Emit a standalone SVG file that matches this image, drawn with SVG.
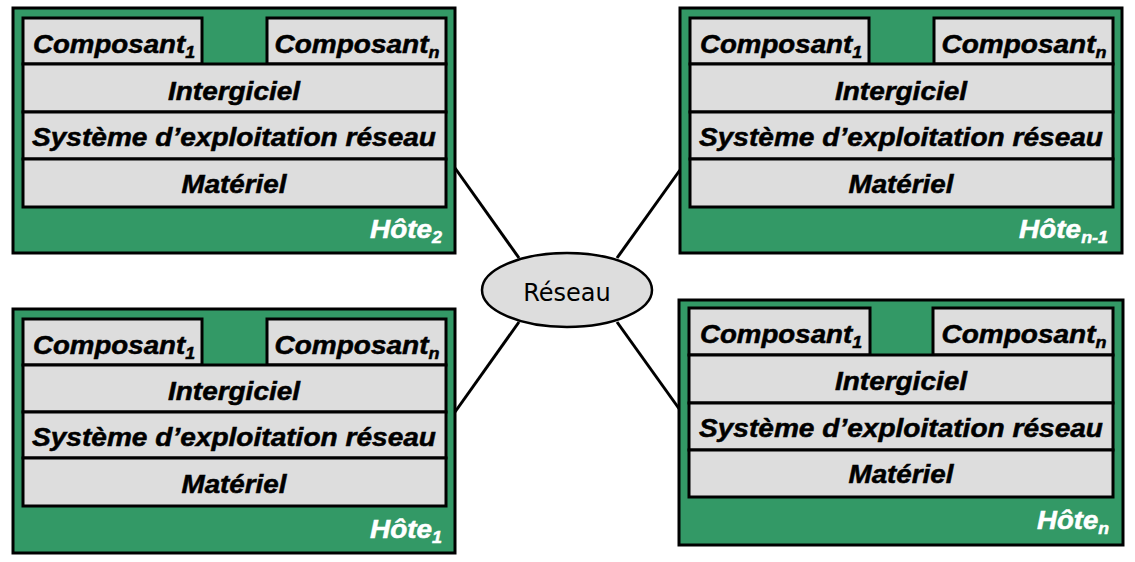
<svg xmlns="http://www.w3.org/2000/svg" width="1135" height="562" viewBox="0 0 1135 562">
<style>
.host{fill:#339966;stroke:#000;stroke-width:3}
.layer{fill:#dddddd;stroke:#000;stroke-width:3}
.lbl{font-family:Arial,"Liberation Sans",sans-serif;font-weight:bold;font-style:italic;font-size:25px;fill:#000;stroke:#000;stroke-width:0.5;text-anchor:middle}
.hl{font-family:Arial,"Liberation Sans",sans-serif;font-weight:bold;font-style:italic;font-size:25px;fill:#fff;stroke:#fff;stroke-width:0.5;text-anchor:end}
.sub{font-size:16px}
.conn{stroke:#000;stroke-width:3;fill:none}
.net{fill:#dddddd;stroke:#000;stroke-width:2.5}
.netl{font-family:"DejaVu Sans",Verdana,sans-serif;font-size:24px;fill:#000;text-anchor:middle}
</style>
<rect width="1135" height="562" fill="#fff"/>
<g id="connectors">
<line class="conn" x1="455" y1="168" x2="519" y2="258"/>
<line class="conn" x1="680" y1="170" x2="617" y2="258"/>
<line class="conn" x1="519" y1="322" x2="455" y2="412"/>
<line class="conn" x1="617" y1="322" x2="680" y2="410"/>
</g>
<g id="reseau">
<ellipse class="net" cx="567" cy="290" rx="85" ry="37"/>
<text class="netl" x="567" y="301">Réseau</text>
</g>
<g id="hote2" transform="translate(13,8)">
<rect class="host" x="0" y="0" width="442" height="245"/>
<rect class="layer" x="10" y="10" width="179" height="46"/>
<rect class="layer" x="254" y="10" width="179" height="46"/>
<rect class="layer" x="10" y="56" width="423" height="48"/>
<rect class="layer" x="10" y="104" width="423" height="47"/>
<rect class="layer" x="10" y="151" width="423" height="48"/>
<text class="lbl" x="101" y="45" textLength="162" lengthAdjust="spacingAndGlyphs">Composant<tspan class="sub" dy="5">1</tspan></text>
<text class="lbl" x="344" y="45" textLength="165" lengthAdjust="spacingAndGlyphs">Composant<tspan class="sub" dy="5">n</tspan></text>
<text class="lbl" x="221" y="92" textLength="132" lengthAdjust="spacingAndGlyphs">Intergiciel</text>
<text class="lbl" x="221" y="138" textLength="404" lengthAdjust="spacingAndGlyphs">Système d’exploitation réseau</text>
<text class="lbl" x="221" y="185" textLength="105" lengthAdjust="spacingAndGlyphs">Matériel</text>
<text class="hl" x="429" y="230" textLength="72" lengthAdjust="spacingAndGlyphs">Hôte<tspan class="sub" dy="5">2</tspan></text>
</g>
<g id="hoten-1" transform="translate(680,8)">
<rect class="host" x="0" y="0" width="442" height="245"/>
<rect class="layer" x="10" y="10" width="179" height="46"/>
<rect class="layer" x="254" y="10" width="179" height="46"/>
<rect class="layer" x="10" y="56" width="423" height="48"/>
<rect class="layer" x="10" y="104" width="423" height="47"/>
<rect class="layer" x="10" y="151" width="423" height="48"/>
<text class="lbl" x="101" y="45" textLength="162" lengthAdjust="spacingAndGlyphs">Composant<tspan class="sub" dy="5">1</tspan></text>
<text class="lbl" x="344" y="45" textLength="165" lengthAdjust="spacingAndGlyphs">Composant<tspan class="sub" dy="5">n</tspan></text>
<text class="lbl" x="221" y="92" textLength="132" lengthAdjust="spacingAndGlyphs">Intergiciel</text>
<text class="lbl" x="221" y="138" textLength="404" lengthAdjust="spacingAndGlyphs">Système d’exploitation réseau</text>
<text class="lbl" x="221" y="185" textLength="105" lengthAdjust="spacingAndGlyphs">Matériel</text>
<text class="hl" x="428" y="230" textLength="89" lengthAdjust="spacingAndGlyphs">Hôte<tspan class="sub" dy="5">n-1</tspan></text>
</g>
<g id="hote1" transform="translate(13,309)">
<rect class="host" x="0" y="0" width="442" height="244"/>
<rect class="layer" x="10" y="10" width="179" height="46"/>
<rect class="layer" x="254" y="10" width="179" height="46"/>
<rect class="layer" x="10" y="56" width="423" height="47"/>
<rect class="layer" x="10" y="103" width="423" height="46"/>
<rect class="layer" x="10" y="149" width="423" height="48"/>
<text class="lbl" x="101" y="45" textLength="162" lengthAdjust="spacingAndGlyphs">Composant<tspan class="sub" dy="5">1</tspan></text>
<text class="lbl" x="344" y="45" textLength="165" lengthAdjust="spacingAndGlyphs">Composant<tspan class="sub" dy="5">n</tspan></text>
<text class="lbl" x="221" y="91" textLength="132" lengthAdjust="spacingAndGlyphs">Intergiciel</text>
<text class="lbl" x="221" y="137" textLength="404" lengthAdjust="spacingAndGlyphs">Système d’exploitation réseau</text>
<text class="lbl" x="221" y="184" textLength="105" lengthAdjust="spacingAndGlyphs">Matériel</text>
<text class="hl" x="429" y="229" textLength="72" lengthAdjust="spacingAndGlyphs">Hôte<tspan class="sub" dy="5">1</tspan></text>
</g>
<g id="hoten" transform="translate(679,300)">
<rect class="host" x="0" y="0" width="444" height="245"/>
<rect class="layer" x="10" y="8" width="181" height="47"/>
<rect class="layer" x="254" y="8" width="180" height="47"/>
<rect class="layer" x="10" y="55" width="424" height="48"/>
<rect class="layer" x="10" y="103" width="424" height="47"/>
<rect class="layer" x="10" y="150" width="424" height="47"/>
<text class="lbl" x="102" y="43" textLength="162" lengthAdjust="spacingAndGlyphs">Composant<tspan class="sub" dy="5">1</tspan></text>
<text class="lbl" x="345" y="43" textLength="165" lengthAdjust="spacingAndGlyphs">Composant<tspan class="sub" dy="5">n</tspan></text>
<text class="lbl" x="222" y="90" textLength="132" lengthAdjust="spacingAndGlyphs">Intergiciel</text>
<text class="lbl" x="222" y="137" textLength="404" lengthAdjust="spacingAndGlyphs">Système d’exploitation réseau</text>
<text class="lbl" x="222" y="183" textLength="105" lengthAdjust="spacingAndGlyphs">Matériel</text>
<text class="hl" x="430" y="229" textLength="72" lengthAdjust="spacingAndGlyphs">Hôte<tspan class="sub" dy="5">n</tspan></text>
</g>
</svg>
